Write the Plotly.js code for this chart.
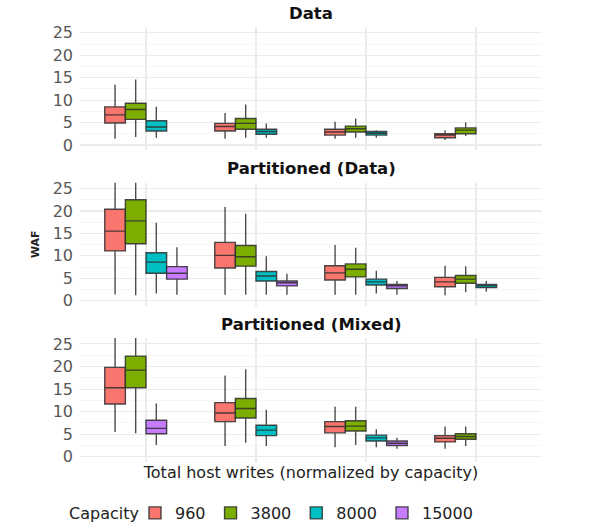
<!DOCTYPE html>
<html>
<head>
<meta charset="utf-8">
<script src="https://cdn.plot.ly/plotly-3.0.1.min.js"></script>
<style>html,body{margin:0;padding:0;background:#fff;}#chart{width:603px;height:531px;}</style>
</head>
<body>
<div id="chart"></div>
<script>
// Groups along x (total host writes, unlabeled) and capacities
const groups = [1, 2, 3, 4];
const capacities = ['960', '3800', '8000', '15000'];
const colors = ['#F8766D', '#7CAE00', '#00BFC4', '#C77CFF'];
const panelTitles = ['Data', 'Partitioned (Data)', 'Partitioned (Mixed)'];

// Each stat array: rows = capacities (960, 3800, 8000, 15000), cols = groups 1..4; null = missing
// Panel 1: Data
const dataLow  = [[1.4,1.4,1.4,1.1],[1.8,1.6,1.6,2.0],[1.6,1.6,1.6,null],[null,null,null,null]];
const dataQ1   = [[4.9,3.1,2.2,1.6],[5.7,3.5,2.9,2.5],[3.1,2.4,2.2,null],[null,null,null,null]];
const dataMed  = [[6.7,4.1,2.9,2.2],[7.9,4.8,3.6,3.3],[4.0,3.0,2.6,null],[null,null,null,null]];
const dataQ3   = [[8.5,4.8,3.5,2.5],[9.3,5.9,4.2,3.8],[5.4,3.5,3.0,null],[null,null,null,null]];
const dataHigh = [[13.4,7.1,5.2,3.3],[14.6,9.0,5.9,5.0],[8.5,4.8,3.3,null],[null,null,null,null]];

// Panel 2: Partitioned (Data)
const pdLow  = [[1.4,1.3,1.3,1.2],[1.2,1.3,1.3,1.9],[1.6,1.3,1.6,2.0],[1.3,1.3,1.3,null]];
const pdQ1   = [[11.1,7.3,4.6,3.1],[12.7,7.7,5.3,3.9],[6.1,4.4,3.5,2.9],[4.8,3.3,2.7,null]];
const pdMed  = [[15.5,10.1,6.2,4.2],[17.8,9.8,7.0,4.8],[8.6,5.5,4.2,3.3],[6.1,4.0,3.3,null]];
const pdQ3   = [[20.4,13.0,7.8,5.2],[22.5,12.3,8.2,5.6],[10.7,6.5,4.8,3.6],[7.6,4.4,3.6,null]];
const pdHigh = [[28.0,20.9,12.4,7.8],[28.0,19.4,11.8,7.7],[17.4,9.9,6.7,4.4],[11.9,6.0,4.4,null]];

// Panel 3: Partitioned (Mixed)
const pmLow  = [[5.5,2.4,2.1,1.8],[5.2,3.1,2.6,2.4],[null,2.4,2.1,null],[2.6,null,1.8,null]];
const pmQ1   = [[11.7,7.8,5.3,3.3],[15.3,8.6,5.7,3.9],[null,4.7,3.5,null],[5.1,null,2.5,null]];
const pmMed  = [[15.3,9.7,6.7,4.1],[19.2,10.7,6.8,4.5],[null,5.9,4.2,null],[6.3,null,3.0,null]];
const pmQ3   = [[19.8,12.0,7.8,4.7],[22.3,12.9,8.0,5.1],[null,7.0,4.8,null],[8.1,null,3.5,null]];
const pmHigh = [[28.0,18.0,11.1,6.7],[28.0,19.4,11.1,6.7],[null,10.4,6.1,null],[11.8,null,4.2,null]];

const panels = [
  {low: dataLow, q1: dataQ1, med: dataMed, q3: dataQ3, high: dataHigh},
  {low: pdLow, q1: pdQ1, med: pdMed, q3: pdQ3, high: pdHigh},
  {low: pmLow, q1: pmQ1, med: pmMed, q3: pmQ3, high: pmHigh}
];

const boxW = 0.1875; // dodge width 0.75 split in 4 slots
const traces = [];
panels.forEach((p, pi) => {
  capacities.forEach((cap, ci) => {
    const xs = [], lo = [], q1 = [], md = [], q3 = [], hi = [];
    groups.forEach((g, gi) => {
      if (p.med[ci][gi] === null) return;
      // slot = number of present capacities before this one in the group
      let slot = 0;
      for (let k = 0; k < ci; k++) if (p.med[k][gi] !== null) slot++;
      xs.push(g + (slot - 1.5) * boxW);
      lo.push(p.low[ci][gi]); q1.push(p.q1[ci][gi]); md.push(p.med[ci][gi]);
      q3.push(p.q3[ci][gi]); hi.push(p.high[ci][gi]);
    });
    const sfx = pi === 0 ? '' : String(pi + 1);
    traces.push({
      type: 'box', name: cap, legendgroup: cap, showlegend: pi === 1,
      x: xs, q1: q1, median: md, q3: q3, lowerfence: lo, upperfence: hi,
      width: boxW, whiskerwidth: 0, boxpoints: false,
      fillcolor: colors[ci],
      line: {color: 'rgba(45,45,45,0.85)', width: 1.4},
      xaxis: 'x' + sfx, yaxis: 'y' + sfx, hoverinfo: 'skip'
    });
  });
});

const FONT = 'DejaVu Sans, Liberation Sans, Arial, sans-serif';
const domains = [[0.717, 1.0], [0.359, 0.642], [0.0, 0.285]];
const tickFont = {family: FONT, size: 16, color: '#585858'};
const legendY = 1 - 513 / 531;
const layout = {
  width: 603, height: 531,
  margin: {l: 80, r: 61, t: 27, b: 69, autoexpand: false},
  paper_bgcolor: '#fff', plot_bgcolor: '#fff',
  boxmode: 'overlay',
  font: {family: FONT, color: '#222'},
  showlegend: true,
  legend: {
    orientation: 'h', xref: 'container', yref: 'container',
    x: 135 / 603, xanchor: 'left', y: legendY, yanchor: 'middle',
    font: {size: 16, color: '#222'}, itemwidth: 30, traceorder: 'normal'
  },
  annotations: [{
    text: 'Capacity', xref: 'paper', yref: 'paper', x: (141 - 80) / 462, y: (462 - 513) / 435,
    xanchor: 'right', yanchor: 'middle', showarrow: false, font: {family: FONT, size: 16, color: '#222'}
  }]
};
domains.forEach((d, i) => {
  const sfx = i === 0 ? '' : String(i + 1);
  layout['xaxis' + sfx] = {
    domain: [0, 1], range: [0.4, 4.6], anchor: 'y' + sfx,
    tickvals: groups, showticklabels: false, ticks: '', automargin: false,
    showgrid: true, gridcolor: '#ebebeb', gridwidth: 1.1, zeroline: false, showline: false
  };
  layout['yaxis' + sfx] = {
    domain: d, range: [-1.15, 26.3], anchor: 'x' + sfx, automargin: false,
    tickvals: [0, 5, 10, 15, 20, 25], ticks: '', tickfont: tickFont, ticklabelstandoff: 6,
    showgrid: true, gridcolor: '#ebebeb', gridwidth: 1.1, zeroline: false, showline: false,
    minor: {tickvals: [2.5, 7.5, 12.5, 17.5, 22.5], showgrid: true, gridcolor: '#f2f2f2', gridwidth: 0.7}
  };
  layout.annotations.push({
    text: '<b>' + panelTitles[i] + '</b>', xref: 'paper', yref: 'paper',
    x: 0.5, y: d[1], yshift: 14, xanchor: 'center', yanchor: 'middle', showarrow: false,
    font: {family: FONT, size: 16.5, color: '#111'}
  });
});
layout.yaxis2.title = {text: '<b>WAF</b>', font: {size: 11, color: '#222'}, standoff: 10};
layout.xaxis3.title = {text: 'Total host writes (normalized by capacity)', font: {size: 16, color: '#222'}, standoff: 4};

Plotly.newPlot('chart', traces, layout, {displayModeBar: false, staticPlot: true});
</script>
</body>
</html>
